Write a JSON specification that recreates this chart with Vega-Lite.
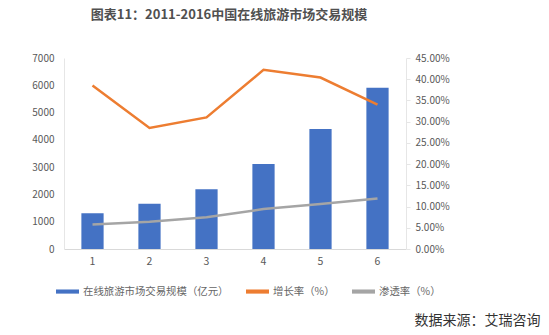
{
  "$schema": "https://vega.github.io/schema/vega-lite/v6.json",
  "width": 342,
  "height": 191,
  "autosize": {"type": "none"},
  "padding": {"left": 64, "top": 58, "right": 143, "bottom": 86},
  "background": "white",
  "title": {
    "text": "图表11：2011-2016中国在线旅游市场交易规模",
    "font": "Noto Sans CJK SC",
    "fontSize": 13,
    "fontWeight": "bold",
    "color": "#505050",
    "anchor": "middle",
    "dx": -6,
    "offset": 31
  },
  "config": {
    "view": {"stroke": null},
    "font": "Noto Sans CJK SC"
  },
  "data": {
    "values": [
      {"year": "1", "scale": 1308, "growth": 0.385, "pen": 0.058},
      {"year": "2", "scale": 1660, "growth": 0.285, "pen": 0.064},
      {"year": "3", "scale": 2187, "growth": 0.310, "pen": 0.075},
      {"year": "4", "scale": 3113, "growth": 0.422, "pen": 0.094},
      {"year": "5", "scale": 4396, "growth": 0.404, "pen": 0.106},
      {"year": "6", "scale": 5909, "growth": 0.340, "pen": 0.119}
    ]
  },
  "encoding": {
    "x": {
      "field": "year",
      "type": "ordinal",
      "scale": {"paddingInner": 0.61, "paddingOuter": 0.305},
      "axis": {
        "labelAngle": 0,
        "labelColor": "#595959",
        "labelFontSize": 10.5,
        "labelPadding": 7,
        "ticks": false,
        "domainColor": "#d9d9d9",
        "title": "数据来源：艾瑞咨询",
        "titleFontSize": 14,
        "titleFontWeight": "normal",
        "titleColor": "#333333",
        "titleAnchor": "end",
        "titleAlign": "right",
        "titleBaseline": "middle",
        "titleX": 476,
        "titleY": 71
      }
    }
  },
  "layer": [
    {
      "mark": {"type": "bar", "color": "#4472C4"},
      "encoding": {
        "y": {
          "field": "scale",
          "type": "quantitative",
          "scale": {"domain": [0, 7000]},
          "axis": {
            "values": [0, 1000, 2000, 3000, 4000, 5000, 6000, 7000],
            "format": "d",
            "grid": false,
            "ticks": false,
            "labelPadding": 10,
            "labelColor": "#595959",
            "labelFontSize": 10,
            "labelOverlap": false,
            "domainColor": "#e6e6e6",
            "title": null
          }
        },
        "color": {
          "datum": "在线旅游市场交易规模（亿元）",
          "type": "nominal",
          "scale": {
            "domain": ["在线旅游市场交易规模（亿元）", "增长率（%）", "渗透率（%）"],
            "range": ["#4472C4", "#ED7D31", "#A5A5A5"]
          },
          "legend": {
            "title": null,
            "orient": "none",
            "legendX": -8,
            "legendY": 222,
            "direction": "horizontal",
            "symbolType": "M-1,-0.18L1,-0.18L1,0.18L-1,0.18Z",
            "symbolSize": 529,
            "symbolStrokeWidth": 0,
            "labelFontSize": 10.4,
            "labelColor": "#666666",
            "labelOffset": 4,
            "columnPadding": 17
          }
        }
      }
    },
    {
      "layer": [
        {
          "mark": {"type": "line", "strokeWidth": 2.5, "color": "#ED7D31"},
          "encoding": {
            "y": {
              "field": "growth",
              "type": "quantitative",
              "scale": {"domain": [0, 0.45]},
              "axis": {
                "orient": "right",
                "values": [0, 0.05, 0.1, 0.15, 0.2, 0.25, 0.3, 0.35, 0.4, 0.45],
                "format": ".2%",
                "grid": false,
                "tickSize": 4,
                "tickColor": "#e6e6e6",
                "domainColor": "#e6e6e6",
                "labelPadding": 5,
                "labelColor": "#595959",
                "labelFontSize": 10,
                "labelOverlap": false,
                "title": null
              }
            },
            "color": {"datum": "增长率（%）", "type": "nominal"}
          }
        },
        {
          "mark": {"type": "line", "strokeWidth": 2.5, "color": "#A5A5A5"},
          "encoding": {
            "y": {
              "field": "pen",
              "type": "quantitative",
              "scale": {"domain": [0, 0.45]},
              "axis": {
                "orient": "right",
                "values": [0, 0.05, 0.1, 0.15, 0.2, 0.25, 0.3, 0.35, 0.4, 0.45],
                "format": ".2%",
                "grid": false,
                "tickSize": 4,
                "tickColor": "#e6e6e6",
                "domainColor": "#e6e6e6",
                "labelPadding": 5,
                "labelColor": "#595959",
                "labelFontSize": 10,
                "labelOverlap": false,
                "title": null
              }
            },
            "color": {"datum": "渗透率（%）", "type": "nominal"}
          }
        }
      ]
    }
  ],
  "resolve": {"scale": {"y": "independent"}}
}
